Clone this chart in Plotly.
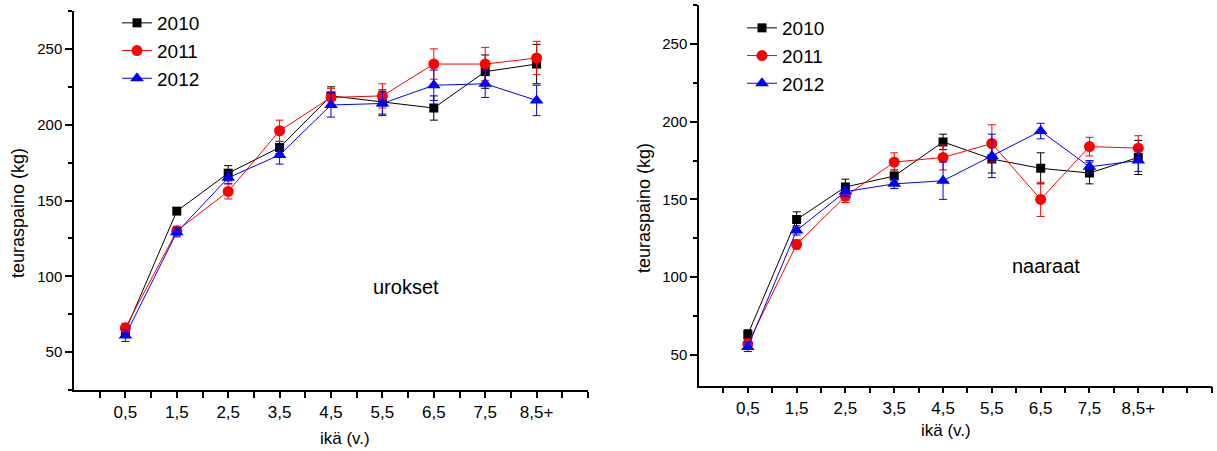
import plotly.graph_objects as go

# ---------------- data ----------------
age_labels = ["0,5", "1,5", "2,5", "3,5", "4,5", "5,5", "6,5", "7,5", "8,5+"]
years = ["2010", "2011", "2012"]

# urokset (males)
m2010 = [64, 143, 168, 185, 219, 215, 211, 235, 240]
m2010_err = [3, 2, 5, 4, 6, 8, 8, 11, 13]
m2011 = [66, 130, 156, 196, 218, 219, 240, 240, 244]
m2011_err = [3, 3, 5, 7, 6, 8, 10, 11, 11]
m2012 = [61, 129, 165, 180, 213, 214, 226, 227, 216]
m2012_err = [4, 3, 4, 6, 8, 8, 10, 9, 10]

# naaraat (females)
f2010 = [63, 137, 158, 165, 187, 176, 170, 167, 177]
f2010_err = [3, 5, 5, 4, 5, 9, 10, 7, 11]
f2011 = [57, 121, 152, 174, 177, 186, 150, 184, 183]
f2011_err = [3, 3, 4, 6, 8, 12, 11, 6, 8]
f2012 = [55, 130, 155, 160, 162, 178, 194, 171, 175]
f2012_err = [3, 3, 3, 3, 12, 14, 5, 4, 7]

y_tick_vals = [50, 100, 150, 200, 250]

# ---------------- layout helpers ----------------
W, H = 1217, 451
FONT = "Liberation Sans, Arial, sans-serif"

x_pos = [i + 0.5 for i in range(len(age_labels))]
x_tick_vals = [k * 0.5 for k in range(0, 2 * len(age_labels) + 3)]
x_tick_text = [age_labels[(k - 1) // 2] if (k % 2 == 1 and (k - 1) // 2 < len(age_labels)) else ""
               for k in range(len(x_tick_vals))]

styles = {
    "2010": dict(color="#000000", symbol="square", size=9),
    "2011": dict(color="#ff0000", symbol="circle", size=11),
    "2012": dict(color="#0000ff", symbol="triangle-up", size=12),
}

fig = go.Figure()

panels = [
    ("x", "y", "legend", [(m2010, m2010_err), (m2011, m2011_err), (m2012, m2012_err)]),
    ("x2", "y2", "legend2", [(f2010, f2010_err), (f2011, f2011_err), (f2012, f2012_err)]),
]

for xa, ya, lg, series in panels:
    for yr, (vals, errs) in zip(years, series):
        st = styles[yr]
        fig.add_trace(go.Scatter(
            x=x_pos, y=vals, name=yr, mode="lines+markers",
            xaxis=xa, yaxis=ya, legend=lg,
            line=dict(color=st["color"], width=1),
            marker=dict(color=st["color"], symbol=st["symbol"], size=st["size"]),
            error_y=dict(type="data", array=errs, symmetric=True,
                         color=st["color"], thickness=1, width=4),
        ))

axis_common = dict(showline=True, linecolor="black", linewidth=1.5, mirror=False,
                   showgrid=False, zeroline=False, ticks="outside",
                   tickcolor="black", tickwidth=1.5)

def xaxis_def(domain, rng, anchor):
    return dict(axis_common, domain=domain, range=rng, anchor=anchor,
                tickmode="array", tickvals=x_tick_vals, ticktext=x_tick_text,
                ticklen=6, tickfont=dict(family=FONT, size=17, color="black"))

def yaxis_def(domain, rng, anchor):
    return dict(axis_common, domain=domain, range=rng, anchor=anchor,
                tickmode="array", tickvals=y_tick_vals, ticklen=7,
                tickfont=dict(family=FONT, size=15, color="black"),
                minor=dict(ticks="outside", ticklen=4, tickwidth=1.5, tickcolor="black",
                           tick0=0, dtick=25))

fig.update_layout(
    width=W, height=H,
    margin=dict(l=0, r=0, t=0, b=0),
    paper_bgcolor="white", plot_bgcolor="white",
    font=dict(family=FONT, color="black"),
    xaxis=xaxis_def([74 / W, 588 / W], [-0.5, 9.5], "y"),
    yaxis=yaxis_def([1 - 390 / H, 1 - 11 / H], [25, 275], "x"),
    xaxis2=xaxis_def([699 / W, 1211.5 / W], [-0.5, 10], "y2"),
    yaxis2=yaxis_def([1 - 385.7 / H, 1 - 5.3 / H], [30, 275], "x2"),
    legend=dict(x=117 / W, y=1 - 4 / H, xanchor="left", yanchor="top",
                font=dict(family=FONT, size=19, color="black"),
                bgcolor="rgba(0,0,0,0)", borderwidth=0, tracegroupgap=0),
    legend2=dict(x=742 / W, y=1 - 9 / H, xanchor="left", yanchor="top",
                 font=dict(family=FONT, size=19, color="black"),
                 bgcolor="rgba(0,0,0,0)", borderwidth=0, tracegroupgap=0),
    showlegend=True,
)

ann = [
    dict(text="teuraspaino (kg)", x=18 / W, y=1 - 213 / H, textangle=-90, size=18),
    dict(text="teuraspaino (kg)", x=644 / W, y=1 - 208 / H, textangle=-90, size=18),
    dict(text="ikä (v.)", x=345 / W, y=1 - 438 / H, textangle=0, size=17),
    dict(text="ikä (v.)", x=946 / W, y=1 - 430 / H, textangle=0, size=17),
    dict(text="urokset", x=406 / W, y=1 - 287 / H, textangle=0, size=20),
    dict(text="naaraat", x=1046 / W, y=1 - 266 / H, textangle=0, size=20),
]
for a in ann:
    fig.add_annotation(text=a["text"], x=a["x"], y=a["y"], xref="paper", yref="paper",
                       xanchor="center", yanchor="middle", showarrow=False,
                       textangle=a["textangle"],
                       font=dict(family=FONT, size=a["size"], color="black"))

fig.write_html("out.html")
